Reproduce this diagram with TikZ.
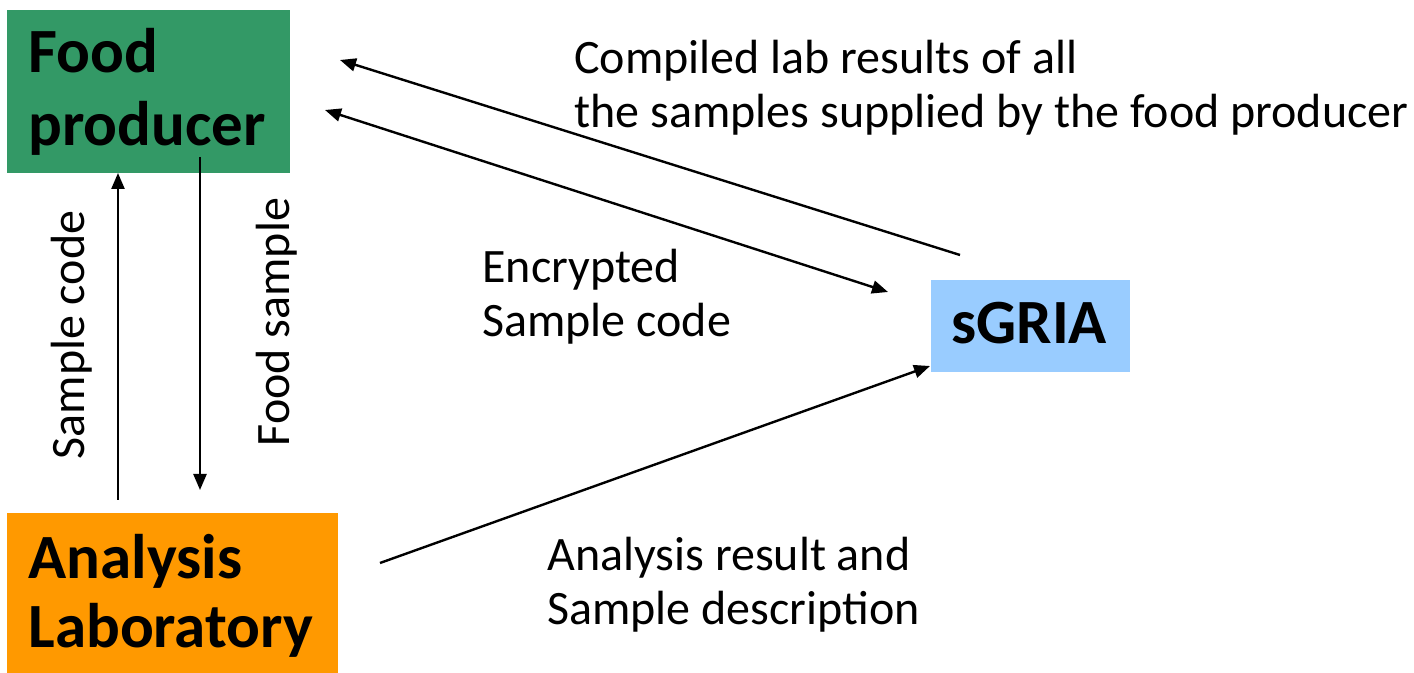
\documentclass[tikz,border=0pt]{standalone}
\usepackage{fontspec}
\setmainfont{Carlito}
\usetikzlibrary{arrows.meta}
\definecolor{fpgreen}{RGB}{51,153,102}
\definecolor{laborange}{RGB}{255,153,0}
\definecolor{sgblue}{RGB}{153,204,255}
\begin{document}
\begin{tikzpicture}[x=0.5pt,y=-0.5pt,
  box/.style={inner sep=0pt, anchor=north west, draw=none},
  bigtxt/.style={font=\fontsize{31.5}{36.5}\selectfont\bfseries, align=left, inner sep=0pt, anchor=base west},
  lbl/.style={font=\fontsize{24}{27}\selectfont, align=left, inner sep=0pt, anchor=base west},
  arr/.style={line width=1.2pt, -{Triangle[length=8pt,width=6.5pt]}},
  darr/.style={line width=1.2pt, {Triangle[length=8pt,width=6.5pt]}-{Triangle[length=8pt,width=6.5pt]}},
]
\useasboundingbox (0,0) rectangle (1414,673);
% boxes
\node[box, fill=fpgreen, minimum width=141.5pt, minimum height=81.5pt] (fp) at (7,10) {};
\node[box, fill=laborange, minimum width=165.5pt, minimum height=80pt] (lab) at (7,513) {};
\node[box, fill=sgblue, minimum width=99.5pt, minimum height=46pt] (sg) at (931,280) {};
\node[bigtxt] (fptext) at (28,146) {Food\\producer};
\node[bigtxt, font=\fontsize{31.5}{34.5}\selectfont\bfseries] (labtext) at (28,647) {Analysis\\Laboratory};
\node[bigtxt] (sgtext) at (951,344) {sGRIA};
% labels
\node[lbl] (compiled) at (574,128) {Compiled lab results of all\\the samples supplied by the food producer};
\node[lbl] (encrypted) at (482,337) {Encrypted\\Sample code};
\node[lbl] (analysis) at (547,624) {Analysis result and\\Sample description};
\node[lbl, anchor=base, rotate=90] (sclabel) at (84,335) {Sample code};
\node[lbl, anchor=base, rotate=90] (fslabel) at (289,322) {Food sample};
% connector end points
\coordinate (scA) at (118,500);
\coordinate (scB) at (118,173);
\coordinate (fsA) at (200,157);
\coordinate (fsB) at (200,490);
\coordinate (cpA) at (960,255);
\coordinate (cpB) at (340,60);
\coordinate (enA) at (325,110);
\coordinate (enB) at (888,292);
\coordinate (anA) at (380,563);
\coordinate (anB) at (930,366);
\draw[arr] (scA) -- (scB);
\draw[arr] (fsA) -- (fsB);
\draw[arr] (cpA) -- (cpB);
\draw[darr] (enA) -- (enB);
\draw[arr] (anA) -- (anB);
\end{tikzpicture}
\end{document}
